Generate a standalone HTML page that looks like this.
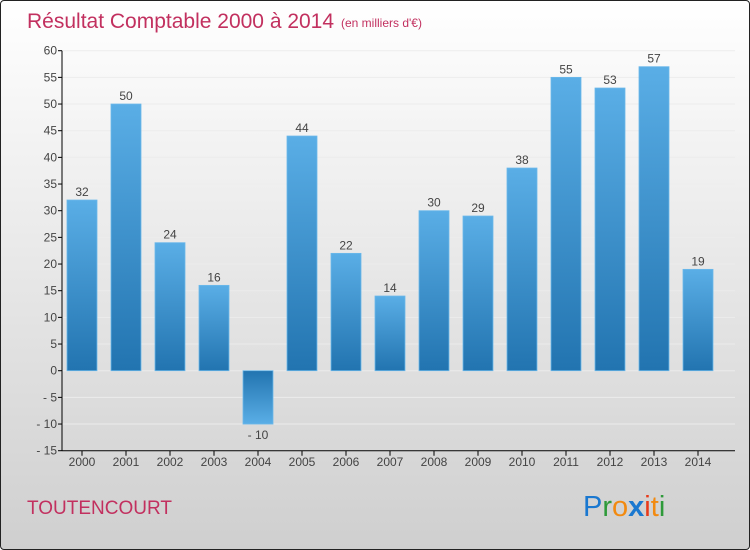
<!DOCTYPE html>
<html><head><meta charset="utf-8"><style>
html,body{margin:0;padding:0;}
body{width:750px;height:550px;overflow:hidden;font-family:"Liberation Sans",sans-serif;}
#frame{position:absolute;left:0;top:0;width:748px;height:548px;border:1px solid #222;border-radius:4px;background:linear-gradient(#ffffff,#cfcfcf);}
</style></head><body>
<div id="frame"></div>
<svg id="chart" width="750" height="550" style="position:absolute;left:0;top:0">
<defs>
<linearGradient id="gp" x1="0" y1="0" x2="0" y2="1"><stop offset="0" stop-color="#5aaee6"/><stop offset="1" stop-color="#2274b0"/></linearGradient>
<linearGradient id="gn" x1="0" y1="0" x2="0" y2="1"><stop offset="0" stop-color="#2274b0"/><stop offset="1" stop-color="#5aaee6"/></linearGradient>
</defs>
<text x="27" y="28" font-size="21" fill="#c2305f">Résultat Comptable 2000 à 2014</text>
<text x="341" y="27" font-size="12" fill="#c2305f">(en milliers d'€)</text>
<text x="27" y="514" font-size="19" fill="#c2305f">TOUTENCOURT</text>
<g font-size="29" font-family="'Liberation Sans',sans-serif">
<text x="583" y="516"><tspan fill="#1a78d0">P</tspan><tspan fill="#2e9a3a">r</tspan><tspan fill="#f28a10">o</tspan><tspan fill="#1a78d0" font-weight="bold">x</tspan><tspan fill="#e83a1a">i</tspan><tspan fill="#f28a10">t</tspan><tspan fill="#2e9a3a">i</tspan></text>
</g>
<g id="grid"></g><g id="bars"></g><g id="axes"></g>
</svg>
<script>
const years=["2000","2001","2002","2003","2004","2005","2006","2007","2008","2009","2010","2011","2012","2013","2014"];
const values=[32,50,24,16,-10,44,22,14,30,29,38,55,53,57,19];
const yTicks=[60,55,50,45,40,35,30,25,20,15,10,5,0,-5,-10,-15];
const NS="http://www.w3.org/2000/svg";
function yy(v){return 370.7-v*(320/60);}
const x0=62,step=44,bw=30;
function xc(i){return 82+i*step;}
function mk(tag,attrs,parent){const e=document.createElementNS(NS,tag);for(const k in attrs)e.setAttribute(k,attrs[k]);parent.appendChild(e);return e;}
const grid=document.getElementById('grid'),bars=document.getElementById('bars'),axes=document.getElementById('axes');
yTicks.forEach(t=>{
 const g=mk('line',{x1:x0,x2:735,y1:yy(t),y2:yy(t),stroke:'#ececec','stroke-width':1},grid);
 
 
 const tk=mk('line',{x1:x0-4,x2:x0,y1:yy(t),y2:yy(t),stroke:'#000'},axes);
 
 
 const lb=mk('text',{x:x0-5,y:yy(t)+4,'text-anchor':'end','font-size':12,fill:'#444'},axes);
 lb.textContent=t<0?'- '+(-t):String(t);
 
 
});
values.forEach((v,i)=>{
 const top=Math.min(yy(v),yy(0)),h=Math.abs(yy(v)-yy(0));
 const r=mk('rect',{x:xc(i)-bw/2,y:top,width:bw,height:h,fill:v<0?'url(#gn)':'url(#gp)',stroke:'#6bb8ea','stroke-width':0.8},bars);
 
 
 const lb=mk('text',{x:xc(i),y:v<0?yy(v)+15:yy(v)-4,'text-anchor':'middle','font-size':12,fill:'#444'},bars);
 lb.textContent=v<0?'- '+(-v):String(v);
 
 
 const tk=mk('line',{x1:xc(i),x2:xc(i),y1:yy(-15),y2:yy(-15)+5,stroke:'#000'},axes);
 
 
 const xl=mk('text',{x:xc(i),y:466,'text-anchor':'middle','font-size':12,fill:'#444'},axes);
 xl.textContent=years[i];
 
 
});
const ya=mk('line',{x1:x0,x2:x0,y1:yy(60),y2:yy(-15),stroke:'#000'},axes);


const xa=mk('line',{x1:x0,x2:735,y1:yy(-15),y2:yy(-15),stroke:'#000'},axes);


</script>
</body></html>
